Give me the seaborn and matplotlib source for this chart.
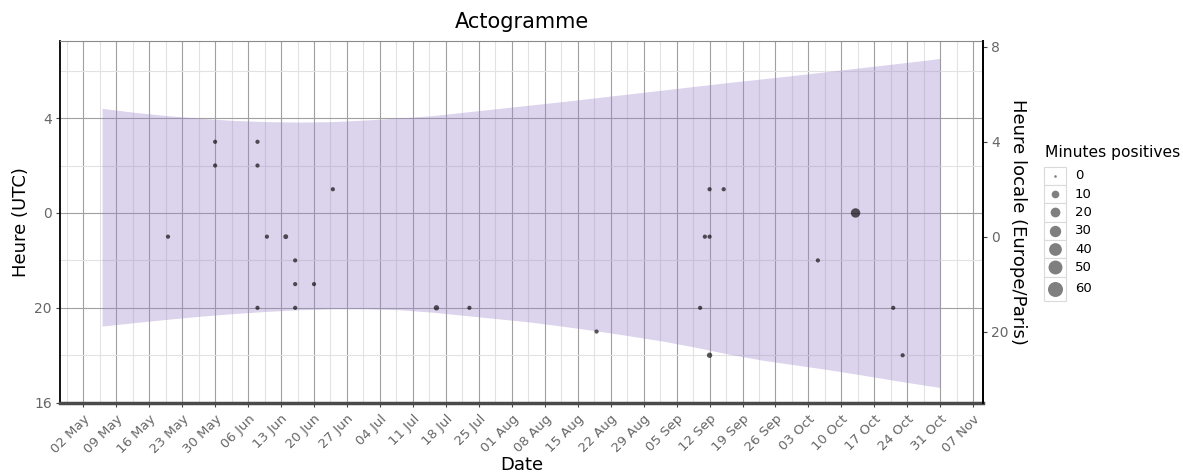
import numpy as np
import pandas as pd
import matplotlib
matplotlib.use("Agg")
import matplotlib.pyplot as plt
import matplotlib.dates as mdates
from matplotlib.lines import Line2D
from matplotlib.patches import Rectangle
from matplotlib.ticker import FixedLocator
import seaborn as sns

# ---------------- data ----------------
# Night band (sunset -> sunrise), UTC hour of day
band_dates = ["2022-05-06", "2022-05-13", "2022-05-20", "2022-05-27", "2022-06-03",
              "2022-06-10", "2022-06-17", "2022-06-24", "2022-07-01", "2022-07-08",
              "2022-07-15", "2022-07-22", "2022-07-29", "2022-08-05", "2022-08-12",
              "2022-08-19", "2022-08-26", "2022-09-02", "2022-09-09", "2022-09-16",
              "2022-09-23", "2022-09-30", "2022-10-07", "2022-10-14", "2022-10-21",
              "2022-10-28", "2022-10-31"]
sunrise_utc = [4.41, 4.24, 4.10, 3.99, 3.90, 3.85, 3.83, 3.85, 3.92, 4.00,
               4.10, 4.25, 4.40, 4.55, 4.70, 4.86, 5.02, 5.18, 5.34, 5.50,
               5.65, 5.80, 5.96, 6.12, 6.28, 6.44, 6.52]
sunset_utc = [19.23, 19.38, 19.52, 19.65, 19.76, 19.85, 19.92, 19.96, 19.96, 19.92,
              19.82, 19.68, 19.54, 19.40, 19.22, 19.03, 18.82, 18.60, 18.34, 18.05,
              17.80, 17.60, 17.40, 17.18, 16.95, 16.73, 16.64]

# Activity detections
act_dates = ["2022-05-20", "2022-05-30", "2022-05-30", "2022-06-08", "2022-06-08",
             "2022-06-08", "2022-06-10", "2022-06-14", "2022-06-16", "2022-06-16",
             "2022-06-16", "2022-06-20", "2022-06-24", "2022-07-16", "2022-07-23",
             "2022-08-19", "2022-09-10", "2022-09-11", "2022-09-12", "2022-09-12",
             "2022-09-12", "2022-09-15", "2022-10-05", "2022-10-13", "2022-10-21",
             "2022-10-23"]
act_hours = [23, 3, 2, 3, 2, 20, 23, 23, 22, 21,
             20, 21, 1, 20, 20, 19, 20, 23, 23, 1,
             18, 1, 22, 0, 20, 18]
act_minutes = [1, 1, 1, 1, 1, 1, 1, 2, 1, 1,
               1, 1, 1, 3, 1, 1, 1, 1, 1, 1,
               3, 1, 1, 18, 1, 1]

legend_minutes = [0, 10, 20, 30, 40, 50, 60]
week_labels_fmt = "%d %b"
utc_offset_local = 1

W, H = 1183, 475

# ---------------- helpers ----------------
def centre(h):
    h = np.asarray(h, dtype=float)
    return np.where(h >= 12, h - 24, h)

def diam_pt(m):
    # area-style scale: diameter grows with sqrt(value)
    return (2.6 + 1.6 * np.sqrt(m)) * 0.72

band = pd.DataFrame({"date": pd.to_datetime(band_dates),
                     "rise": centre(sunrise_utc),
                     "set": centre(sunset_utc)})
act = pd.DataFrame({"date": pd.to_datetime(act_dates),
                    "y": centre(act_hours),
                    "minutes": act_minutes})
size_map = {m: float(diam_pt(m) ** 2) for m in sorted(set(act_minutes))}

def fpx(x, y):
    return x / W, 1 - y / H

# ---------------- figure ----------------
plt.rcParams["font.family"] = ["DejaVu Sans"]
fig = plt.figure(figsize=(W / 100, H / 100), dpi=100)
ax = fig.add_axes([60.3 / W, 1 - 402.7 / H, (982.7 - 60.3) / W, (402.7 - 41) / H])

ax.fill_between(band["date"], band["set"], band["rise"], color="#9b81c9",
                alpha=0.35, linewidth=0, zorder=1)

sns.scatterplot(data=act, x="date", y="y", size="minutes", sizes=size_map,
                color="black", alpha=0.65, linewidth=0,
                legend=False, ax=ax, zorder=3)

# axes limits
ax.set_xlim(pd.Timestamp("2022-04-27 03:00"), pd.Timestamp("2022-11-09"))
ax.set_ylim(-8, 7.25)

# x ticks
major = pd.date_range("2022-05-02", "2022-11-07", freq="7D")
minor = pd.date_range("2022-04-28 12:00", "2022-11-10", freq="7D")
ax.xaxis.set_major_locator(FixedLocator(mdates.date2num(major)))
ax.xaxis.set_minor_locator(FixedLocator(mdates.date2num(minor)))
ax.xaxis.set_major_formatter(mdates.DateFormatter(week_labels_fmt))
plt.setp(ax.get_xticklabels(), rotation=45, ha="right", rotation_mode="anchor")

# y ticks (left, UTC)
ax.set_yticks([4, 0, -4, -8])
ax.set_yticklabels([str(int(v % 24)) for v in [4, 0, -4, -8]])
ax.set_yticks([6, 2, -2, -6], minor=True)

ax.tick_params(axis="both", which="minor", length=0)
ax.tick_params(axis="both", which="major", length=3, width=0.8, color="#444444")
ax.tick_params(axis="x", which="major", labelsize=9.5, labelcolor="#666666", pad=4)
ax.tick_params(axis="y", which="major", labelsize=10, labelcolor="#666666", pad=3)

ax.set_axisbelow(True)
ax.grid(which="major", color="#a0a0a0", linewidth=0.8)
ax.grid(which="minor", color="#e2e2e2", linewidth=0.8)

for s in ["left", "right"]:
    ax.spines[s].set_color("black")
    ax.spines[s].set_linewidth(1.3)
ax.spines["bottom"].set_color("#4a4a4a")
ax.spines["bottom"].set_linewidth(2.5)
ax.spines["top"].set_color("#8a8a8a")
ax.spines["top"].set_linewidth(0.8)

ax.set_xlabel("Date", fontsize=13, labelpad=0)
ax.set_ylabel("Heure (UTC)", fontsize=13, labelpad=3)
ax.set_title("Actogramme", fontsize=15, pad=9)

# right axis (local time)
ax2 = ax.twinx()
lo, hi = ax.get_ylim()
ax2.set_ylim(lo + utc_offset_local, hi + utc_offset_local)
rt = [8, 4, 0, -4]
ax2.set_yticks(rt)
ax2.set_yticklabels([str(int(v % 24)) for v in rt])
ax2.tick_params(axis="y", length=3, width=0.8, color="#444444", labelsize=10,
                labelcolor="#666666", pad=3)
for s in ["left", "top", "bottom"]:
    ax2.spines[s].set_visible(False)
ax2.spines["right"].set_color("black")
ax2.spines["right"].set_linewidth(1.3)
ax2.set_ylabel("Heure locale (Europe/Paris)", fontsize=13, rotation=-90, labelpad=13)

# legend (drawn as keys with boxes, ggplot style)
fig.text(*fpx(1045, 152), "Minutes positives", fontsize=11.2, ha="left", va="center")
row_top = 166.7
for m in legend_minutes:
    d_px = diam_pt(m) / 0.72
    rh = max(18.3, d_px + 10) if m == legend_minutes[-1] else 18.3
    x0, y0 = fpx(1044, row_top + rh)
    fig.add_artist(Rectangle((x0, y0), 22 / W, rh / H, transform=fig.transFigure,
                             facecolor="white", edgecolor="#dadada", linewidth=0.8))
    cx, cy = fpx(1055, row_top + rh / 2)
    fig.add_artist(Line2D([cx], [cy], transform=fig.transFigure, marker="o",
                          linestyle="", markersize=diam_pt(m),
                          markerfacecolor="black", markeredgewidth=0, alpha=0.5))
    fig.text(*fpx(1075, row_top + rh / 2), str(m), fontsize=9.5,
             ha="left", va="center")
    row_top += rh

fig.savefig("out.png", dpi=100)
